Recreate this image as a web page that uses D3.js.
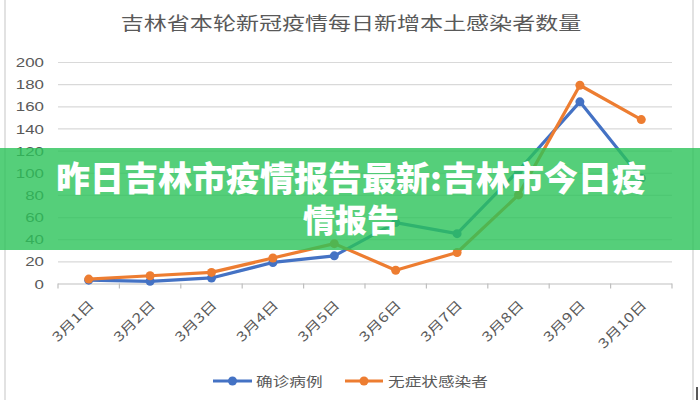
<!DOCTYPE html>
<html>
<head>
<meta charset="utf-8">
<script src="https://cdn.jsdelivr.net/npm/d3@7/dist/d3.min.js"></script>
<style>
  html, body { margin: 0; padding: 0; background: #fff; }
  svg { display: block; font-family: "Noto Sans CJK SC", "Liberation Sans", sans-serif; }
</style>
</head>
<body>
<svg id="chart" width="700" height="400"></svg>
<script>
// ---- data ----
const titleText = "吉林省本轮新冠疫情每日新增本土感染者数量";
const categories = ["3月1日","3月2日","3月3日","3月4日","3月5日","3月6日","3月7日","3月8日","3月9日","3月10日"];
const seriesNames = ["确诊病例","无症状感染者"];
const confirmed = [3, 2, 5, 19, 25, 55, 45, 102, 164, 95];
const asymptomatic = [4, 7, 10, 23, 36, 12, 28, 80, 179, 148];
const yTicks = [0, 20, 40, 60, 80, 100, 120, 140, 160, 180, 200];
const overlayLines = ["昨日吉林市疫情报告最新:吉林市今日疫", "情报告"];

const colors = ["#4472C4", "#ED7D31"];
const textColor = "#595959";
const sx = 1.28; // horizontal stretch of the chart picture

const svg = d3.select("#chart");

// frame
svg.append("line").attr("x1",5).attr("x2",5).attr("y1",0).attr("y2",400).attr("stroke","#d9d9d9").attr("stroke-width",1.5);
svg.append("line").attr("x1",693).attr("x2",693).attr("y1",0).attr("y2",400).attr("stroke","#d9d9d9").attr("stroke-width",1.5);
svg.append("line").attr("x1",697).attr("x2",697).attr("y1",387).attr("y2",400).attr("stroke","#222").attr("stroke-width",1.5);

// title
svg.append("g").attr("transform", `translate(351,30) scale(${sx},1)`)
  .append("text").attr("text-anchor","middle").attr("font-size",18).attr("fill",textColor).text(titleText);

// scales
const x = d3.scaleBand().domain(categories).range([58, 672]);
const y = d3.scaleLinear().domain([0, 200]).range([283.5, 62]);

// y grid + labels
const yAxis = svg.append("g").attr("transform","translate(58,0)")
  .call(d3.axisLeft(y).tickValues(yTicks).tickSize(-(672-58)).tickPadding(0).tickFormat(d3.format("d")));
yAxis.select(".domain").remove();
yAxis.selectAll(".tick line").attr("stroke", d => d === 0 ? "#bfbfbf" : "#d9d9d9").attr("stroke-width", 1.2);
yAxis.selectAll(".tick text")
  .attr("x", 0).attr("dy", "0.35em")
  .attr("transform", `translate(-14,0) scale(1.3,1)`)
  .attr("font-size", 13).attr("fill", textColor)
  .attr("font-family", "'Liberation Sans', sans-serif");

// x axis ticks at band boundaries
const bounds = categories.map(c => x(c)).concat([x(categories[categories.length-1]) + x.bandwidth()]);
svg.append("g").selectAll("line").data(bounds).join("line")
  .attr("x1", d => d).attr("x2", d => d).attr("y1", y(0)).attr("y2", y(0) + 5)
  .attr("stroke", "#bfbfbf").attr("stroke-width", 1.2);

// x labels
svg.append("g").selectAll("text").data(categories).join("text")
  .attr("transform", d => `translate(${x(d) + x.bandwidth()/2 + 3},${y(0) + 19}) rotate(-45) scale(1.3,1)`)
  .attr("text-anchor", "end").attr("dy", "0.35em")
  .attr("font-size", 13).attr("fill", textColor)
  .text(d => d);

// lines
const allSeries = [confirmed, asymptomatic];
const line = d3.line().x((d, i) => x(categories[i]) + x.bandwidth()/2).y(d => y(d));
allSeries.forEach((vals, si) => {
  const g = svg.append("g");
  g.append("path").datum(vals).attr("d", line).attr("fill", "none")
    .attr("stroke", colors[si]).attr("stroke-width", 3.2).attr("stroke-linejoin", "round");
  g.selectAll("circle").data(vals).join("circle")
    .attr("cx", (d, i) => x(categories[i]) + x.bandwidth()/2).attr("cy", d => y(d))
    .attr("r", 4.5).attr("fill", colors[si]);
});

// legend
const legendItems = [
  { name: seriesNames[0], color: colors[0], x1: 213, x2: 252, tx: 256 },
  { name: seriesNames[1], color: colors[1], x1: 345, x2: 383, tx: 388 }
];
const lg = svg.append("g");
legendItems.forEach(it => {
  lg.append("line").attr("x1", it.x1).attr("x2", it.x2).attr("y1", 381).attr("y2", 381)
    .attr("stroke", it.color).attr("stroke-width", 3.2);
  lg.append("circle").attr("cx", (it.x1 + it.x2)/2).attr("cy", 381).attr("r", 4.5).attr("fill", it.color);
  lg.append("g").attr("transform", `translate(${it.tx},386) scale(${sx},1)`)
    .append("text").attr("font-size", 13).attr("fill", textColor).text(it.name);
});

// green overlay banner
svg.append("rect").attr("x", 0).attr("y", 148).attr("width", 700).attr("height", 102)
  .attr("fill", "rgb(42,195,89)").attr("fill-opacity", 0.8);
svg.append("g").selectAll("text").data(overlayLines).join("text")
  .attr("x", 351).attr("y", (d, i) => 191 + i * 41)
  .attr("text-anchor", "middle").attr("font-size", (d, i) => i === 0 ? 34 : 32).attr("font-weight", 900)
  .attr("fill", "#fff").text(d => d);
</script>
</body>
</html>
